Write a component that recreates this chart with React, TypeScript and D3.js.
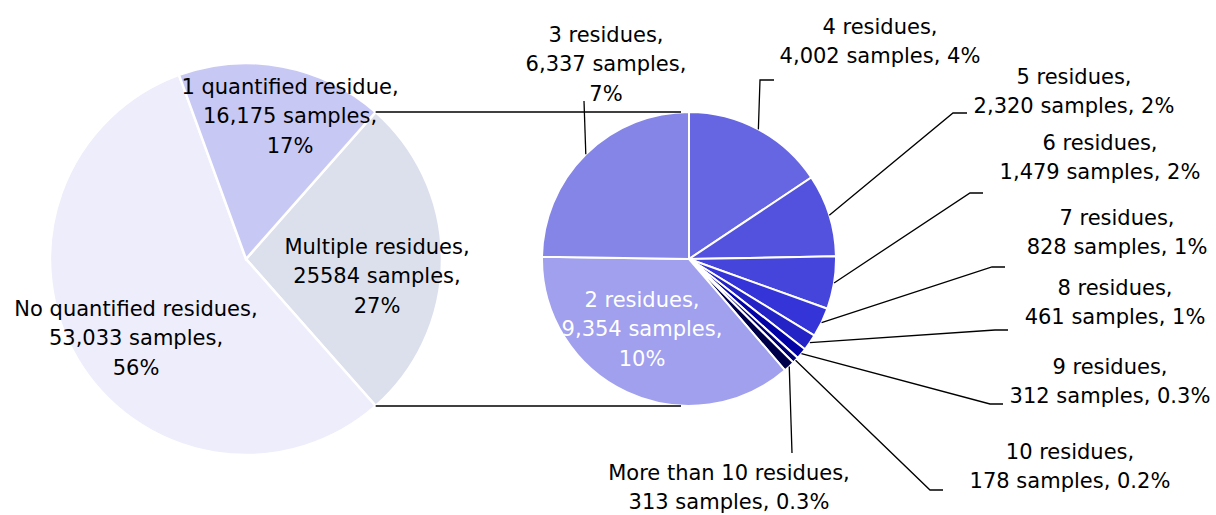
import React from "react";
import * as d3 from "d3";

// ---------- Data ----------
const overviewCategories = ["Multiple residues", "No quantified residues", "1 quantified residue"];
const overviewSamples = [25584, 53033, 16175];
const overviewSampleLabels = ["25584", "53,033", "16,175"];
const overviewPercentLabels = ["27%", "56%", "17%"];

const detailCategories = [
  "4 residues", "5 residues", "6 residues", "7 residues", "8 residues",
  "9 residues", "10 residues", "More than 10 residues", "2 residues", "3 residues",
];
const detailSamples = [4002, 2320, 1479, 828, 461, 312, 178, 313, 9354, 6337];
const detailSampleLabels = ["4,002", "2,320", "1,479", "828", "461", "312", "178", "313", "9,354", "6,337"];
const detailPercentLabels = ["4%", "2%", "2%", "1%", "1%", "0.3%", "0.2%", "0.3%", "10%", "7%"];

// ---------- Styles / layout ----------
const overviewColors = ["#DCE0ED", "#EDEDFB", "#C8C8F5"];
const detailColors = [
  "#6666E2", "#5252DE", "#4545DC", "#3434D8", "#2323C6",
  "#0303A6", "#000075", "#00004A", "#A0A0EE", "#8585E8",
];

const W = 1216;
const H = 515;
const LEFT = { cx: 246, cy: 259, r: 196 };
const RIGHT = { cx: 689, cy: 259, r: 147 };
const FONT = "'DejaVu Sans', Verdana, sans-serif";
const FS = 21;
const LH = 29.2;

const overviewLabelPos: [number, number][] = [
  [377, 247],
  [136, 309],
  [290, 87],
];
// [x, firstLineY, threeLines, elbowX, elbowY, endX, white]
const detailLabelPos: [number, number, boolean, number, number, number, boolean][] = [
  [880, 27, false, 760, 80, 774, false],
  [1074, 77, false, 953, 113, 967, false],
  [1100, 143, false, 970, 193, 983, false],
  [1117, 218, false, 992, 267, 1005, false],
  [1115, 288, false, 995, 330, 1008, false],
  [1110, 367, false, 990, 404, 1003, false],
  [1070, 452, false, 930, 490, 943, false],
  [729, 473, false, 792, 453, 792, false],
  [642, 300, true, 0, 0, 0, true],
  [606, 35, true, 584, 101, 584, false],
];

function Lines({ x, y, lines, fill }: { x: number; y: number; lines: string[]; fill: string }) {
  return (
    <text x={x} y={y} textAnchor="middle" fontFamily={FONT} fontSize={FS} fill={fill}>
      {lines.map((l, i) => (
        <tspan key={i} x={x} y={y + i * LH} dy="0.34em">
          {l}
        </tspan>
      ))}
    </text>
  );
}

export default function App() {
  const totalOverview = d3.sum(overviewSamples);
  const start = Math.PI / 2 - (overviewSamples[0] / totalOverview) * Math.PI;
  const overviewPie = d3
    .pie<number>()
    .sort(null)
    .value((d) => d)
    .startAngle(start)
    .endAngle(start + 2 * Math.PI)(overviewSamples);
  const overviewArc = d3.arc<d3.PieArcDatum<number>>().innerRadius(0).outerRadius(LEFT.r);

  const detailPie = d3
    .pie<number>()
    .sort(null)
    .value((d) => d)
    .startAngle(0)
    .endAngle(2 * Math.PI)(detailSamples);
  const detailArc = d3.arc<d3.PieArcDatum<number>>().innerRadius(0).outerRadius(RIGHT.r);
  const rimArc = d3.arc<d3.PieArcDatum<number>>().innerRadius(RIGHT.r).outerRadius(RIGHT.r);

  const multi = overviewPie[0];
  const pA = d3.pointRadial(multi.startAngle, LEFT.r);
  const pB = d3.pointRadial(multi.endAngle, LEFT.r);
  const qTop = d3.pointRadial(0, RIGHT.r);
  const qBot = d3.pointRadial(Math.PI, RIGHT.r);
  const connectors = [
    [LEFT.cx + pA[0], LEFT.cy + pA[1], RIGHT.cx + qTop[0] - 8, RIGHT.cy + qTop[1]],
    [LEFT.cx + pB[0], LEFT.cy + pB[1], RIGHT.cx + qBot[0] - 8, RIGHT.cy + qBot[1]],
  ];

  const overviewLines = (i: number) => [
    overviewCategories[i] + ",",
    overviewSampleLabels[i] + " samples,",
    overviewPercentLabels[i],
  ];
  const detailLines = (i: number, three: boolean) =>
    three
      ? [detailCategories[i] + ",", detailSampleLabels[i] + " samples,", detailPercentLabels[i]]
      : [detailCategories[i] + ",", detailSampleLabels[i] + " samples, " + detailPercentLabels[i]];

  return (
    <svg
      width={W}
      height={H}
      viewBox={`0 0 ${W} ${H}`}
      style={{ position: "absolute", left: 0, top: 0, background: "#fff" }}
    >
      <rect width={W} height={H} fill="#fff" />
      <g transform={`translate(${LEFT.cx},${LEFT.cy})`}>
        {overviewPie.map((d, i) => (
          <path key={i} d={overviewArc(d) || ""} fill={overviewColors[i]} stroke="#fff" strokeWidth={2.5} />
        ))}
      </g>
      <g transform={`translate(${RIGHT.cx},${RIGHT.cy})`}>
        {detailPie.map((d, i) => (
          <path key={i} d={detailArc(d) || ""} fill={detailColors[i]} stroke="#fff" strokeWidth={2} />
        ))}
      </g>
      {connectors.map((c, i) => (
        <line key={i} x1={c[0]} y1={c[1]} x2={c[2]} y2={c[3]} stroke="#000" strokeWidth={1.4} />
      ))}
      {detailPie.map((d, i) => {
        const lp = detailLabelPos[i];
        if (lp[6]) return null;
        const c = rimArc.centroid(d);
        const pts: [number, number][] = [
          [RIGHT.cx + c[0], RIGHT.cy + c[1]],
          [lp[3], lp[4]],
          [lp[5], lp[4]],
        ];
        return (
          <path key={i} d={d3.line()(pts) || ""} fill="none" stroke="#000" strokeWidth={1.3} />
        );
      })}
      {overviewPie.map((d, i) => (
        <Lines key={i} x={overviewLabelPos[i][0]} y={overviewLabelPos[i][1]} lines={overviewLines(i)} fill="#000" />
      ))}
      {detailPie.map((d, i) => {
        const lp = detailLabelPos[i];
        return <Lines key={i} x={lp[0]} y={lp[1]} lines={detailLines(i, lp[2])} fill={lp[6] ? "#fff" : "#000"} />;
      })}
    </svg>
  );
}
